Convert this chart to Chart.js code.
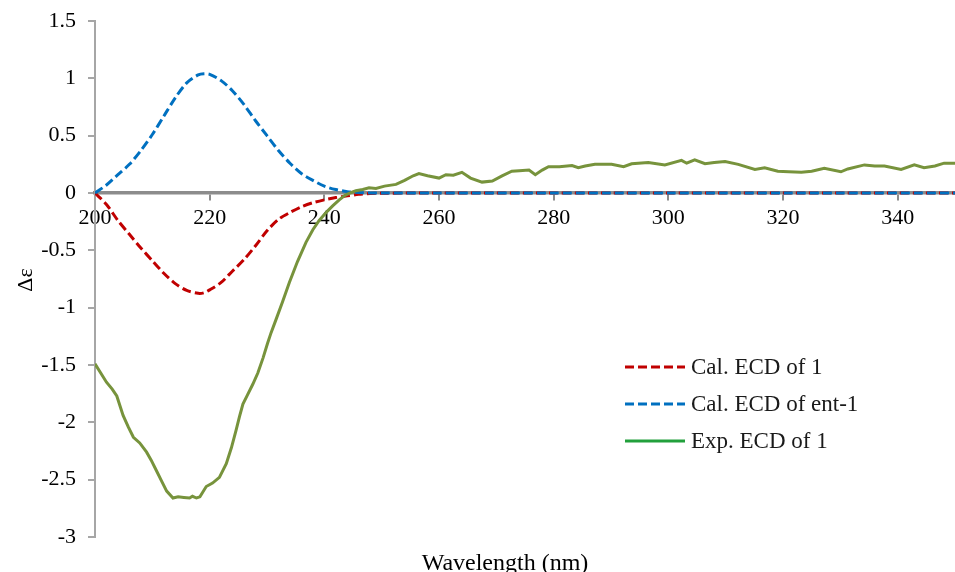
<!DOCTYPE html>
<html><head><meta charset="utf-8">
<script src="https://cdn.jsdelivr.net/npm/chart.js@4/dist/chart.umd.min.js"></script>
<style>html,body{margin:0;padding:0;background:#fff;overflow:hidden}</style>
</head><body>
<canvas id="c" width="955" height="572"></canvas>
<script>
// ---- data ----
const calWavelengths = [200,202,204,206,208,210,212,214,216,218,219,220,222,224,226,228,230,232,234,236,238,240,242,244,246,248,250,260,270,280,290,300,310,320,330,340,350];
const calEcd1 =        [0,-0.1,-0.24,-0.36,-0.48,-0.59,-0.70,-0.79,-0.85,-0.875,-0.87,-0.845,-0.78,-0.68,-0.58,-0.46,-0.33,-0.23,-0.17,-0.12,-0.085,-0.06,-0.04,-0.025,-0.012,-0.005,-0.002,0,0,0,0,0,0,0,0,0,0];
const calEcdEnt1 =     [0,0.07,0.16,0.25,0.37,0.51,0.67,0.83,0.96,1.03,1.04,1.035,0.98,0.89,0.77,0.63,0.50,0.37,0.26,0.17,0.11,0.06,0.03,0.012,0.004,0.001,0,0,0,0,0,0,0,0,0,0,0];
const expWavelengths = [200,201,202,203,203.8,204.9,205.8,206.7,207.8,209,209.8,210.7,211.6,212.5,213.6,214.5,215.5,216.5,217,217.7,218.3,219.4,220.5,221.7,222.9,223.8,224.6,225.2,225.8,226.6,227.5,228.4,229.3,230.1,230.7,231.6,232.7,233.9,235.3,236.8,238,239.1,240.5,241.5,242.6,243.6,244.5,245.5,246.7,247.8,249,250.5,252.5,254,255.5,256.5,258,260,261.2,262.5,264,265.5,267.5,269.3,271,272.7,274,275.7,276.8,278,279.1,281,283.2,284.3,285.5,287.2,290.1,292.2,293.6,296.5,299.4,302.3,303.2,304.6,306.4,308,309.9,312.2,315.1,316.8,319.1,321,323.2,325,327.2,330.1,331.3,334.2,336,337.7,340.6,342.9,344.6,346.5,348.1,350];
const expEcd1 =        [-1.49,-1.57,-1.65,-1.71,-1.77,-1.94,-2.04,-2.13,-2.18,-2.26,-2.33,-2.42,-2.51,-2.60,-2.66,-2.65,-2.655,-2.66,-2.645,-2.66,-2.65,-2.56,-2.53,-2.48,-2.36,-2.22,-2.07,-1.95,-1.84,-1.76,-1.67,-1.57,-1.44,-1.31,-1.22,-1.10,-0.95,-0.78,-0.60,-0.43,-0.32,-0.24,-0.16,-0.11,-0.06,-0.02,0.0,0.02,0.03,0.045,0.04,0.06,0.075,0.11,0.15,0.17,0.15,0.13,0.16,0.155,0.18,0.13,0.095,0.105,0.15,0.19,0.195,0.20,0.16,0.20,0.23,0.23,0.24,0.22,0.235,0.25,0.25,0.23,0.255,0.265,0.245,0.285,0.26,0.29,0.255,0.265,0.275,0.25,0.205,0.22,0.19,0.185,0.18,0.19,0.215,0.185,0.21,0.245,0.235,0.235,0.205,0.245,0.22,0.235,0.26,0.26];
const xTickValues = [200,220,240,260,280,300,320,340];
const yTickValues = [-3,-2.5,-2,-1.5,-1,-0.5,0,0.5,1,1.5];
const seriesLabels = ['Cal. ECD of 1','Cal. ECD of ent-1','Exp. ECD of 1'];
const xTitle = 'Wavelength (nm)';
const yTitle = 'Δε';

const SERIF = "'Liberation Serif', 'Times New Roman', serif";
const pts = (xs, ys) => xs.map((x, i) => ({x, y: ys[i]}));

const legendColors = ['#c00000', '#0070c0', '#22a03c'];

const customDecor = {
  id: 'customDecor',
  afterDraw(chart) {
    const ctx = chart.ctx;
    ctx.save();
    // axis titles
    ctx.fillStyle = '#000';
    ctx.font = '24px ' + SERIF;
    ctx.textAlign = 'center';
    ctx.textBaseline = 'alphabetic';
    ctx.fillText(xTitle, 505, 570);
    ctx.save();
    ctx.translate(26, 280);
    ctx.rotate(-Math.PI / 2);
    ctx.font = '22px ' + SERIF;
    ctx.textBaseline = 'middle';
    ctx.fillText(yTitle, 0, 0);
    ctx.restore();
    // legend
    const ys = [367, 404, 441];
    chart.data.datasets.forEach((ds, i) => {
      ctx.beginPath();
      ctx.strokeStyle = legendColors[i];
      ctx.lineWidth = 3;
      ctx.setLineDash(ds.borderDash || []);
      ctx.moveTo(625, ys[i]);
      ctx.lineTo(685, ys[i]);
      ctx.stroke();
      ctx.setLineDash([]);
      ctx.fillStyle = '#1a1a1a';
      ctx.font = '23px ' + SERIF;
      ctx.textAlign = 'left';
      ctx.textBaseline = 'middle';
      ctx.fillText(ds.label, 691, ys[i] + 1);
    });
    ctx.restore();
  }
};

new Chart(document.getElementById('c'), {
  type: 'line',
  data: {
    datasets: [
      {label: seriesLabels[0], data: pts(calWavelengths, calEcd1), borderColor: '#c00000', borderWidth: 3, borderDash: [9,4], pointRadius: 0, tension: 0.3, order: 3},
      {label: seriesLabels[1], data: pts(calWavelengths, calEcdEnt1), borderColor: '#0070c0', borderWidth: 3, borderDash: [9,4], pointRadius: 0, tension: 0.3, order: 2},
      {label: seriesLabels[2], data: pts(expWavelengths, expEcd1), borderColor: '#77933c', borderWidth: 3, pointRadius: 0, tension: 0, order: 1}
    ]
  },
  options: {
    responsive: false,
    animation: false,
    devicePixelRatio: 1,
    layout: {padding: {left: 0, right: 0, top: 21, bottom: 35}},
    plugins: {legend: {display: false}, tooltip: {enabled: false}},
    scales: {
      x: {
        type: 'linear', position: {y: 0}, min: 200, max: 350,
        afterBuildTicks: s => { s.ticks = xTickValues.map(v => ({value: v})); },
        grid: {display: true, drawOnChartArea: false, drawTicks: true, tickLength: 6, color: '#8c8c8c', lineWidth: 2},
        border: {display: true, color: '#8c8c8c', width: 3.5},
        ticks: {font: {family: SERIF, size: 22}, color: '#000', padding: 6, maxRotation: 0, autoSkip: false, callback: v => String(v)}
      },
      y: {
        type: 'linear', position: 'left', min: -3, max: 1.5,
        afterBuildTicks: s => { s.ticks = yTickValues.map(v => ({value: v})); },
        afterFit: s => { s.width = 95; s.paddingTop = 0; s.paddingBottom = 0; },
        grid: {display: true, drawOnChartArea: false, drawTicks: true, tickLength: 7, color: '#a6a6a6', lineWidth: 2},
        border: {display: true, color: '#a6a6a6', width: 2},
        ticks: {font: {family: SERIF, size: 22}, color: '#000', padding: 12, callback: v => String(v)}
      }
    }
  },
  plugins: [customDecor]
});
</script>
</body></html>
